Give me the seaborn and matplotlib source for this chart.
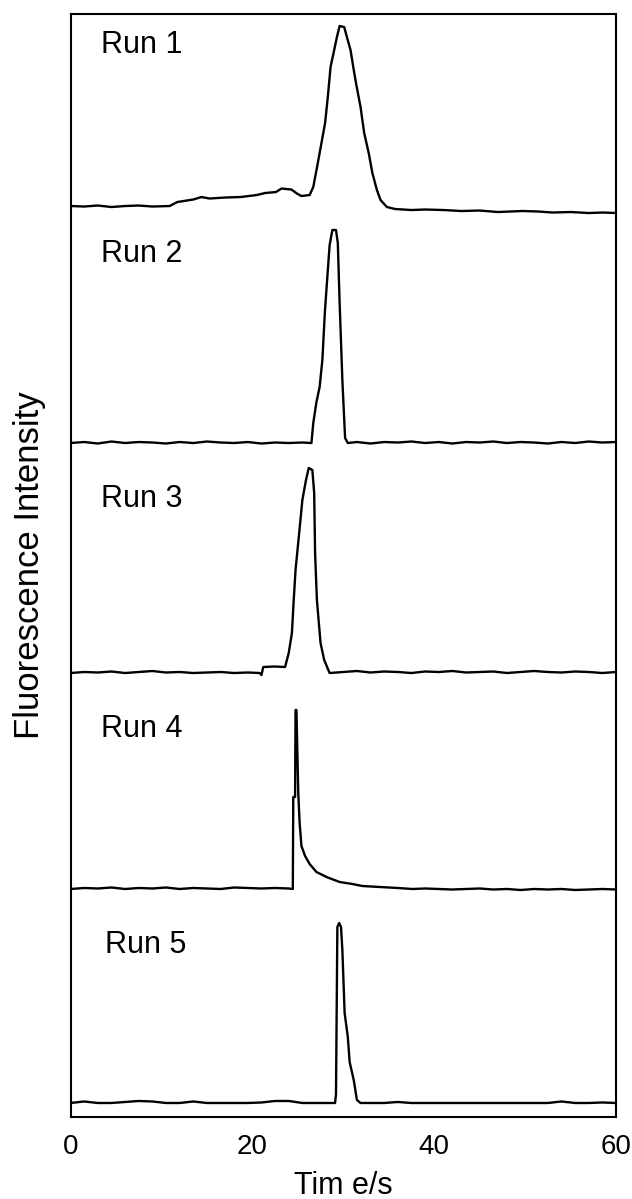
import numpy as np
import pandas as pd
import matplotlib
matplotlib.use("Agg")
import matplotlib.pyplot as plt
import seaborn as sns

# traces: time (s) and height above each run's own baseline
run1_t = [0, 1.5, 3, 4.5, 6, 7.5, 9,
          10.9, 11.75, 13.5, 14.4, 15.3, 17, 18.7, 20.5, 21.4, 22.6, 23.2, 24.3, 24.9, 25.4, 26.3,
          26.7, 27.2, 27.6, 28.0, 28.3, 28.6, 29.0, 29.3, 29.6, 30.1, 30.4, 30.8, 31.1, 31.4, 31.9,
          32.3, 32.8, 33.2, 33.7, 34.1, 34.8, 35.7,
          37.5, 39, 41, 43, 45, 47, 49.7, 51.5, 53, 55, 57, 58.5, 60]
run1_h = [7, 6.5, 7.5, 6, 7, 7.5, 6.5,
          7, 11, 13.5, 16, 14.5, 15.5, 16, 18, 20, 21, 24.5, 23.5, 19.5, 17, 18,
          26, 50, 70, 90, 116, 146, 163, 176, 187, 186, 176, 163, 146, 130, 106,
          80, 60, 40, 23, 13, 6, 4,
          3, 3.5, 3, 2, 2.5, 1, 2, 1.5, 0.5, 1, 0, 0.5, 0]

run2_t = [0, 1.5, 3, 4.5, 6, 7.5, 9, 10.5, 12, 13.5, 15, 16.5, 18, 19.5, 21, 22.5, 24, 25.5,
          26.5, 26.7, 27.05, 27.4, 27.7, 27.97, 28.2, 28.5, 28.8, 29.2, 29.4, 29.6, 29.9, 30.2, 30.5,
          31.5, 33, 34.5, 36, 37.5, 39, 40.5, 42, 43.5, 45, 46.5, 48, 49.5, 51, 52.5, 54, 55.5, 57,
          58.5, 60]
run2_h = [0, 1, -0.5, 1.5, 0, 1, 0.5, -0.5, 1, 0, 1.5, 0.5, 0, 1, -0.5, 0.5, 0, 0.5,
          0, 20, 41, 56, 83, 130, 160, 198, 213, 213, 200, 140, 63, 5, 0,
          1, -0.5, 1, 0.5, 1.5, 0, 1, -0.5, 1, 0.5, 1.5, 0, 1, 0.5, -0.5, 1, 0, 1.5,
          0.5, 1]

run3_t = [0, 1.5, 3, 4.5, 6, 7.5, 9, 10.5, 12, 13.5, 15, 16.5, 18, 19.5,
          20.8, 21.0, 21.2, 22.4, 23.6,
          24.0, 24.35, 24.55, 24.75, 25.15, 25.5, 25.9, 26.2, 26.6, 26.8, 26.9, 27.1, 27.5, 27.9, 28.5,
          30, 31.5, 33, 34.5, 36, 37.5, 39, 40.5, 42, 43.5, 45, 46.5, 48, 49.5, 51, 52.5, 54, 55.5,
          57, 58.5, 60]
run3_h = [0, 1, 0.5, 1.5, 0, 1, 2, 0.5, 1, 0, 0.5, 1, 0, 0.5,
          0, -2, 6, 6.5, 6,
          20, 40, 73, 103, 140, 173, 193, 205, 203, 180, 120, 73, 30, 13, 0,
          1, 2, 0.5, 1.5, 1, 0, 1.5, 1, 2, 0.5, 1, 1.5, 0, 1, 2, 1, 0.5, 1.5,
          1, 0, 1]

run4_t = [0, 1.5, 3, 4.5, 6, 7.5, 9, 10.5, 12, 13.5, 15, 16.5, 18, 19.5, 21, 22.5, 24.0,
          24.45, 24.5, 24.7, 24.75, 24.85, 25.05, 25.2, 25.4, 25.8, 26.3, 27.05, 28.15, 29.6, 31.0,
          32.1, 34.0, 36.0, 37.6,
          39, 40.5, 42, 43.5, 45, 46.5, 48, 49.5, 51, 52.5, 54, 55.5, 57, 58.5, 60]
run4_h = [0, 1, 0.5, 1.5, 0, 1, 0.5, 1.5, 0, 1, 0.5, 0, 1.5, 1, 0.5, 1, 0.5,
          0, 92, 92, 179, 179, 96, 66, 43, 33, 25, 17, 12, 7, 5,
          3, 2, 1, 0,
          0.5, 0, -0.5, 0, 0.5, -0.5, 0, -1, 0, -0.5, 0, -1, -0.5, 0, -0.5]

run5_t = [0, 1.5, 3, 4.5, 6, 7.5, 9, 10.5, 12, 13.5, 15, 16.5, 18, 19.5, 21, 22.5, 24, 25.5,
          27, 28.5,
          29.1, 29.2, 29.35, 29.55, 29.75, 29.9, 30.15, 30.5, 30.7, 31.15, 31.5, 31.9,
          33, 34.5, 36, 37.5, 39, 40.5, 42, 43.5, 45, 46.5, 48, 49.5, 51, 52.5, 54, 55.5, 57,
          58.5, 60]
run5_h = [0, 1.5, 0, 0, 1, 2, 1.5, 0, 0, 1.5, 0, 0, 0, 0, 0.5, 2, 2, 0,
          0, 0,
          0, 9, 176, 180, 176, 153, 90, 66, 41, 23, 3, 0,
          0, 0, 1, 0, 0, 0, 0, 0, 0, 0, 0, 0, 0, 0, 1.5, 0, 0,
          0.5, 0]

run_names = ["Run 1", "Run 2", "Run 3", "Run 4", "Run 5"]
run_offsets = [904, 674, 444, 228, 14]
label_t = [3.4, 3.4, 3.3, 3.4, 3.8]
label_y = [1064, 855, 610, 380, 164]

times = [run1_t, run2_t, run3_t, run4_t, run5_t]
heights = [run1_h, run2_h, run3_h, run4_h, run5_h]

frames = []
for name, off, t, h in zip(run_names, run_offsets, times, heights):
    frames.append(pd.DataFrame({"run": name, "time": t,
                                "signal": np.array(h, dtype=float) + off}))
df = pd.concat(frames, ignore_index=True)

sns.set_style("white")
plt.rcParams["font.family"] = ["Liberation Sans", "DejaVu Sans"]
plt.rcParams["text.color"] = "black"
plt.rcParams["axes.labelcolor"] = "black"
plt.rcParams["xtick.color"] = "black"

fig = plt.figure(figsize=(6.32, 11.99), dpi=100)
ax = fig.add_axes([0.1116, 0.0684, 0.8631, 0.9199])

sns.lineplot(data=df, x="time", y="signal", hue="run", units="run", estimator=None,
             palette=["black"] * 5, linewidth=1.7, legend=False, ax=ax)

for name, tx, ty in zip(run_names, label_t, label_y):
    ax.text(tx, ty, name, fontsize=22, va="baseline", ha="left", color="black")

ax.set_xlim(0, 60)
ax.set_ylim(0, 1103)
ax.set_xticks([0, 20, 40, 60])
ax.set_yticks([])
ax.tick_params(axis="x", length=0, pad=12, labelsize=20, colors="black")
ax.set_xlabel("Tim e/s", fontsize=22, labelpad=8)
ax.set_ylabel("Fluorescence Intensity", fontsize=25, labelpad=18)
for s in ax.spines.values():
    s.set_color("black")
    s.set_linewidth(1.5)

fig.savefig("out.png", dpi=100)
